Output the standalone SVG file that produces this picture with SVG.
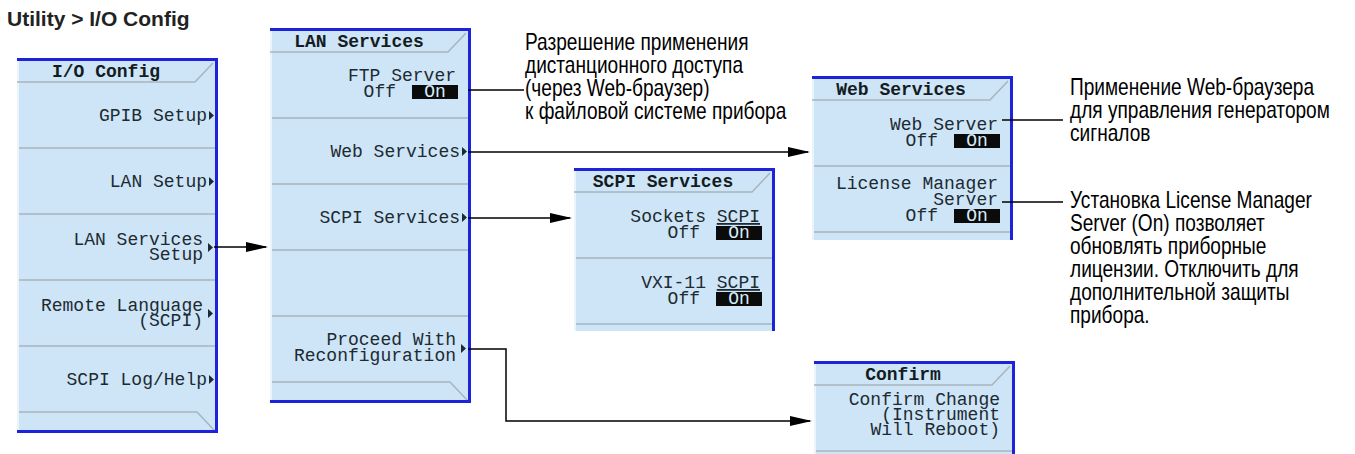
<svg xmlns="http://www.w3.org/2000/svg" width="1355" height="454" viewBox="0 0 1355 454">
  <style>
    .pf { fill: #cde5f7; }
    .edge { stroke: #e9f4fb; stroke-width: 2; fill: none; }
    .sep { stroke: #a7b5bf; stroke-width: 1.5; fill: none; }
    .bb { stroke: #1e22d8; stroke-width: 3; fill: none; }
    .lbl { font-family: "Liberation Mono", "DejaVu Sans Mono", monospace; font-size: 18px; fill: #1d2a31; }
    .r { text-anchor: end; }
    .hdr { font-weight: bold; text-anchor: middle; fill: #141c22; }
    .tri { fill: #1d2a31; }
    .onbox { fill: #0b0b0b; }
    .ontxt { fill: #d6ecfb; text-anchor: middle; }
    .note { font-family: "Liberation Sans", Arial, sans-serif; font-size: 23px; fill: #000; }
    .title { font-family: "Liberation Sans", Arial, sans-serif; font-size: 21px; font-weight: bold; fill: #222; }
    .conn { stroke: #000; stroke-width: 1.5; fill: none; }
    .arr { marker-end: url(#ah); }
  </style>
  <defs>
    <marker id="ah" markerWidth="22" markerHeight="10" refX="20" refY="5" orient="auto" markerUnits="userSpaceOnUse">
      <path d="M0,0 L22,5 L0,10 z" fill="#000"/>
    </marker>
  </defs>

  <text class="title" x="7" y="26">Utility &gt; I/O Config</text>

  <!-- I/O Config menu -->
  <g id="io-config">
    <rect class="pf" x="17" y="58" width="201" height="375"/>
    <path class="edge" d="M18,58 V433"/>
    <path class="sep" d="M17,82 H195 L213,63"/>
    <path class="sep" d="M19,148 H216 M19,214 H216 M19,280 H216 M19,346 H216"/>
    <path class="sep" d="M19,412 H197 L214,430"/>
    <path class="bb" d="M17,59.5 H216.5 V431.5 H17"/>
    <text class="lbl hdr" x="106" y="77">I/O Config</text>
    <text class="lbl r" x="207" y="121">GPIB Setup</text>
    <path class="tri" d="M209,111 L214,115.5 L209,120 z"/>
    <text class="lbl r" x="207" y="187">LAN Setup</text>
    <path class="tri" d="M209,177 L214,181.5 L209,186 z"/>
    <text class="lbl r" x="203" y="245">LAN Services</text>
    <text class="lbl r" x="203" y="260">Setup</text>
    <path class="tri" d="M208,243 L213,247.5 L208,252 z"/>
    <text class="lbl r" x="203" y="311">Remote Language</text>
    <text class="lbl r" x="203" y="326">(SCPI)</text>
    <path class="tri" d="M208,309 L213,313.5 L208,318 z"/>
    <text class="lbl r" x="207" y="385">SCPI Log/Help</text>
    <path class="tri" d="M209,375 L214,379.5 L209,384 z"/>
  </g>

  <!-- LAN Services menu -->
  <g id="lan-services">
    <rect class="pf" x="270" y="28" width="201" height="375"/>
    <path class="edge" d="M271,28 V403"/>
    <path class="sep" d="M270,52 H448 L466,33"/>
    <path class="sep" d="M272,118 H469 M272,184 H469 M272,250 H469 M272,316 H469"/>
    <path class="sep" d="M272,382 H450 L467,400"/>
    <path class="bb" d="M270,29.5 H469.5 V401.5 H270"/>
    <text class="lbl hdr" x="359" y="47">LAN Services</text>
    <text class="lbl r" x="456" y="81">FTP Server</text>
    <text class="lbl r" x="396" y="97">Off</text>
    <rect class="onbox" x="412" y="85" width="46" height="14"/>
    <text class="lbl ontxt" x="435" y="97">On</text>
    <text class="lbl r" x="460" y="157">Web Services</text>
    <path class="tri" d="M462,147 L467,151.5 L462,156 z"/>
    <text class="lbl r" x="460" y="223">SCPI Services</text>
    <path class="tri" d="M462,213 L467,217.5 L462,222 z"/>
    <text class="lbl r" x="456" y="345">Proceed With</text>
    <text class="lbl r" x="456" y="361">Reconfiguration</text>
    <path class="tri" d="M461,344 L466,348.5 L461,353 z"/>
  </g>

  <!-- SCPI Services menu -->
  <g id="scpi-services">
    <rect class="pf" x="574" y="168" width="201" height="163"/>
    <path class="edge" d="M575,168 V331"/>
    <path class="sep" d="M574,192 H752 L770,173"/>
    <path class="sep" d="M576,258 H773 M576,324 H773"/>
    <path class="bb" d="M574,169.5 H773.5 V331"/>
    <text class="lbl hdr" x="663" y="187">SCPI Services</text>
    <text class="lbl r" x="760" y="222">Sockets <tspan text-decoration="underline">SCPI</tspan></text>
    <text class="lbl r" x="700" y="238">Off</text>
    <rect class="onbox" x="716" y="226" width="46" height="14"/>
    <text class="lbl ontxt" x="739" y="238">On</text>
    <text class="lbl r" x="760" y="288">VXI-11 <tspan text-decoration="underline">SCPI</tspan></text>
    <text class="lbl r" x="700" y="304">Off</text>
    <rect class="onbox" x="716" y="292" width="46" height="14"/>
    <text class="lbl ontxt" x="739" y="304">On</text>
  </g>

  <!-- Web Services menu -->
  <g id="web-services">
    <rect class="pf" x="812" y="76" width="201" height="164"/>
    <path class="edge" d="M813,76 V240"/>
    <path class="sep" d="M812,100 H990 L1008,81"/>
    <path class="sep" d="M814,166 H1011 M814,232 H1011"/>
    <path class="bb" d="M812,77.5 H1011.5 V240"/>
    <text class="lbl hdr" x="901" y="95">Web Services</text>
    <text class="lbl r" x="998" y="130">Web Server</text>
    <text class="lbl r" x="938" y="146">Off</text>
    <rect class="onbox" x="954" y="134" width="46" height="14"/>
    <text class="lbl ontxt" x="977" y="146">On</text>
    <text class="lbl r" x="998" y="189">License Manager</text>
    <text class="lbl r" x="998" y="205">Server</text>
    <text class="lbl r" x="938" y="221">Off</text>
    <rect class="onbox" x="954" y="209" width="46" height="14"/>
    <text class="lbl ontxt" x="977" y="221">On</text>
  </g>

  <!-- Confirm menu -->
  <g id="confirm">
    <rect class="pf" x="814" y="361" width="201" height="93"/>
    <path class="edge" d="M815,361 V454"/>
    <path class="sep" d="M814,385 H992 L1010,366"/>
    <path class="sep" d="M816,451 H1013"/>
    <path class="bb" d="M814,362.5 H1013.5 V454"/>
    <text class="lbl hdr" x="903" y="380">Confirm</text>
    <text class="lbl r" x="1000" y="405">Confirm Change</text>
    <text class="lbl r" x="1000" y="420">(Instrument</text>
    <text class="lbl r" x="1000" y="435">Will Reboot)</text>
  </g>

  <!-- Callout texts, set in a condensed width -->
  <g id="note-ftp" class="note" transform="translate(525,0) scale(0.83,1)">
    <text x="0" y="50">Разрешение применения</text>
    <text x="0" y="73">дистанционного доступа</text>
    <text x="0" y="96">(через Web-браузер)</text>
    <text x="0" y="119">к файловой системе прибора</text>
  </g>
  <g id="note-web" class="note" transform="translate(1070,0) scale(0.83,1)">
    <text x="0" y="95">Применение Web-браузера</text>
    <text x="0" y="118">для управления генератором</text>
    <text x="0" y="141">сигналов</text>
  </g>
  <g id="note-license" class="note" transform="translate(1070,0) scale(0.83,1)">
    <text x="0" y="208">Установка License Manager</text>
    <text x="0" y="231">Server (On) позволяет</text>
    <text x="0" y="254">обновлять приборные</text>
    <text x="0" y="277">лицензии. Отключить для</text>
    <text x="0" y="300">дополнительной защиты</text>
    <text x="0" y="323">прибора.</text>
  </g>

  <!-- Connectors -->
  <g id="connectors">
    <path class="conn arr" d="M214,247 H266"/>
    <path class="conn" d="M468,90 H524"/>
    <path class="conn arr" d="M468,152 H808"/>
    <path class="conn arr" d="M468,218 H570"/>
    <path class="conn arr" d="M468,349 H506 V421 H810"/>
    <path class="conn" d="M1002,120 H1063"/>
    <path class="conn" d="M1002,202 H1063"/>
  </g>
</svg>
